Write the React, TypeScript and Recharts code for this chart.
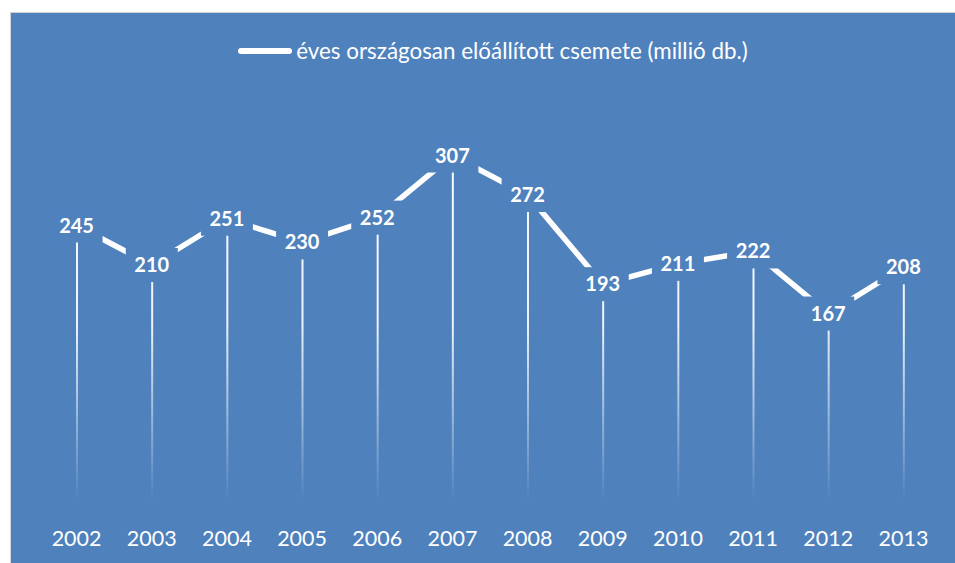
import { ComposedChart, Bar, Line, XAxis, YAxis, Legend, LabelList } from "recharts";

const years = ["2002", "2003", "2004", "2005", "2006", "2007", "2008", "2009", "2010", "2011", "2012", "2013"];
const seedlings = [245, 210, 251, 230, 252, 307, 272, 193, 211, 222, 167, 208];
const seriesName = "éves országosan előállított csemete (millió db.)";

const data = years.map((year, i) => ({ year, value: seedlings[i] }));

const BG = "#4f81bd";
const FONT = "Lato, 'Open Sans', sans-serif";

function ValueLabel(props: any) {
  const { x, y, value } = props;
  return (
    <g>
      <rect x={x - 26} y={y - 17} width={52} height={34} fill={BG} />
      <text x={x} y={y + 7} textAnchor="middle" fill="#fff" fontSize={20} fontWeight={700} fontFamily={FONT}>
        {value}
      </text>
    </g>
  );
}

function LegendContent() {
  return (
    <div style={{ display: "flex", justifyContent: "center", alignItems: "center", paddingLeft: 20, fontFamily: FONT }}>
      <span style={{ display: "inline-block", width: 54, height: 6, borderRadius: 3, background: "#fff", marginRight: 4 }} />
      <span style={{ color: "#fff", fontSize: 22.4 }}>{seriesName}</span>
    </div>
  );
}

export default function App() {
  return (
    <div
      style={{
        position: "fixed",
        left: 10,
        top: 12,
        width: 944,
        height: 550,
        background: BG,
        borderTop: "1px solid #d4d4d4",
        borderLeft: "1px solid #d4d4d4",
      }}
    >
      <ComposedChart width={944} height={550} data={data} margin={{ top: 94, right: 14, bottom: 31, left: 28 }}>
        <defs>
          <linearGradient id="dropFade" gradientUnits="userSpaceOnUse" x1={0} y1={94} x2={0} y2={489}>
            <stop offset="0" stopColor="#fff" stopOpacity={1} />
            <stop offset="0.55" stopColor="#fff" stopOpacity={0.9} />
            <stop offset="1" stopColor="#fff" stopOpacity={0} />
          </linearGradient>
        </defs>
        <XAxis
          dataKey="year"
          axisLine={false}
          tickLine={false}
          tickSize={0}
          tickMargin={29}
          interval={0}
          tick={{ fill: "#fff", fontSize: 21.5, fontFamily: FONT }}
        />
        <YAxis hide domain={[0, 350]} />
        <Legend
          verticalAlign="middle"
          align="center"
          wrapperStyle={{ top: 24, left: 0, width: 944 }}
          content={<LegendContent />}
        />
        <Bar dataKey="value" barSize={2} fill="url(#dropFade)" legendType="none" isAnimationActive={false} />
        <Line
          dataKey="value"
          name={seriesName}
          stroke="#fff"
          strokeWidth={5.5}
          dot={false}
          activeDot={false}
          isAnimationActive={false}
        >
          <LabelList dataKey="value" content={<ValueLabel />} />
        </Line>
      </ComposedChart>
    </div>
  );
}
